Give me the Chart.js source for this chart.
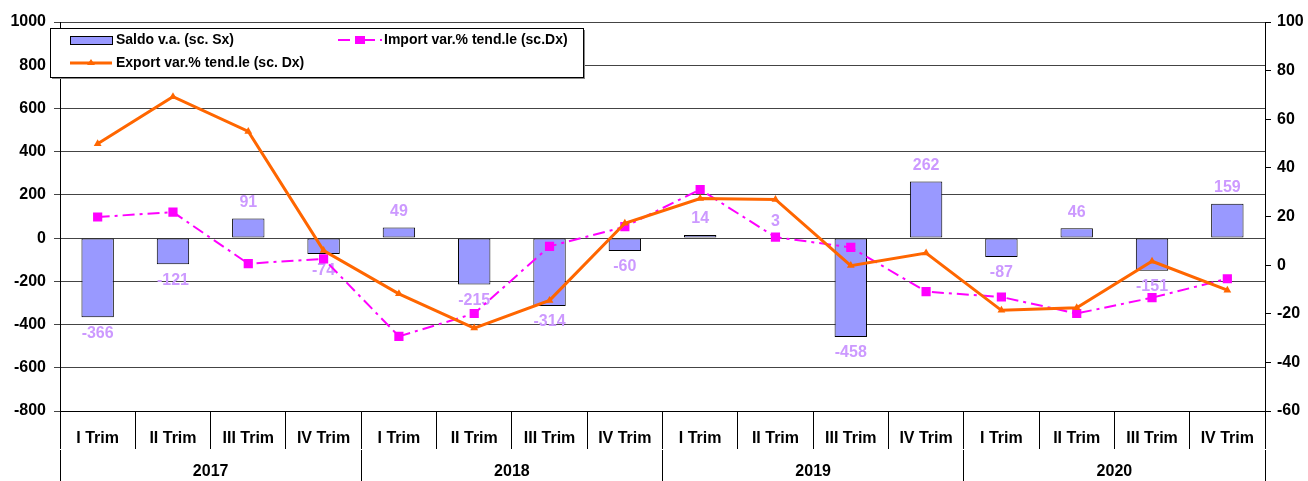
<!DOCTYPE html>
<html>
<head>
<meta charset="utf-8">
<script src="https://cdn.jsdelivr.net/npm/chart.js@4.4.1/dist/chart.umd.min.js"></script>
<style>
  html, body { margin: 0; padding: 0; background: #fff; }
</style>
</head>
<body>
<canvas id="chart" width="1308" height="481"></canvas>
<script>
// dati
const trimestri = ["I Trim", "II Trim", "III Trim", "IV Trim", "I Trim", "II Trim", "III Trim", "IV Trim",
  "I Trim", "II Trim", "III Trim", "IV Trim", "I Trim", "II Trim", "III Trim", "IV Trim"];
const anni = ["2017", "2018", "2019", "2020"];
const saldo = [-366, -121, 91, -74, 49, -215, -314, -60, 14, 3, -458, 262, -87, 46, -151, 159];
const importVar = [19.8, 21.8, 0.6, 2.6, -29.3, -19.9, 7.7, 15.8, 31.1, 11.5, 7.3, -10.9, -13.1, -19.9, -13.4, -5.6];
const exportVar = [49.9, 69.3, 55.0, 6.0, -11.8, -25.9, -14.5, 17.2, 27.4, 27.0, -0.2, 5.0, -18.6, -17.5, 1.6, -10.3];

Chart.defaults.font.family = "'Liberation Sans', Arial, sans-serif";
Chart.defaults.font.weight = "bold";
Chart.defaults.font.size = 16;
Chart.defaults.color = "#000";

// etichette dei valori sulle barre
const etichetteSaldo = {
  id: "etichetteSaldo",
  afterDatasetDraw(chart, args) {
    if (args.index !== 0) return;
    const ctx = chart.ctx;
    ctx.save();
    ctx.font = "bold 16px 'Liberation Sans', Arial, sans-serif";
    ctx.fillStyle = "#CC99FF";
    ctx.textAlign = "center";
    ctx.textBaseline = "middle";
    args.meta.data.forEach((bar, i) => {
      const v = saldo[i];
      const y = v >= 0 ? bar.y - 16 : bar.y + 16;
      ctx.fillText(String(v), bar.x, y);
    });
    ctx.restore();
  },
};

// legenda dentro il grafico
const legendaBox = {
  id: "legendaBox",
  afterDraw(chart) {
    const ctx = chart.ctx;
    const ds = chart.data.datasets;
    const x0 = chart.chartArea.left - 10;
    const y0 = chart.chartArea.top + 6;
    const w = 533, h = 49;
    ctx.save();
    ctx.fillStyle = "#888";
    ctx.fillRect(x0 + 2, y0 + 2, w, h);
    ctx.fillStyle = "#fff";
    ctx.fillRect(x0, y0, w, h);
    ctx.strokeStyle = "#000";
    ctx.lineWidth = 1;
    ctx.strokeRect(x0 + 0.5, y0 + 0.5, w, h);

    ctx.font = "bold 14px 'Liberation Sans', Arial, sans-serif";
    ctx.fillStyle = "#000";
    ctx.textBaseline = "middle";
    const r1 = y0 + 12, r2 = y0 + 35;

    // Saldo
    ctx.fillStyle = ds[0].backgroundColor;
    ctx.fillRect(x0 + 20, r1 - 4, 42, 8);
    ctx.strokeStyle = "#000";
    ctx.strokeRect(x0 + 20.5, r1 - 3.5, 42, 8);
    ctx.fillStyle = "#000";
    ctx.fillText(ds[0].label, x0 + 66, r1);

    // Import
    ctx.strokeStyle = ds[1].borderColor;
    ctx.lineWidth = 2;
    ctx.setLineDash([12, 5, 3, 5]);
    ctx.beginPath();
    ctx.moveTo(x0 + 288, r1);
    ctx.lineTo(x0 + 332, r1);
    ctx.stroke();
    ctx.setLineDash([]);
    ctx.fillStyle = ds[1].borderColor;
    ctx.fillRect(x0 + 305, r1 - 4, 10, 8);
    ctx.fillStyle = "#000";
    ctx.fillText(ds[1].label, x0 + 334, r1);

    // Export
    ctx.strokeStyle = ds[2].borderColor;
    ctx.lineWidth = 3;
    ctx.beginPath();
    ctx.moveTo(x0 + 20, r2);
    ctx.lineTo(x0 + 62, r2);
    ctx.stroke();
    ctx.fillStyle = ds[2].borderColor;
    ctx.beginPath();
    ctx.moveTo(x0 + 41, r2 - 4);
    ctx.lineTo(x0 + 45, r2 + 2);
    ctx.lineTo(x0 + 37, r2 + 2);
    ctx.closePath();
    ctx.fill();
    ctx.fillStyle = "#000";
    ctx.fillText(ds[2].label, x0 + 66, r2);
    ctx.restore();
  },
};

const ctx = document.getElementById("chart").getContext("2d");

new Chart(ctx, {
  data: {
    labels: trimestri,
    datasets: [
      {
        type: "bar",
        label: "Saldo v.a. (sc. Sx)",
        data: saldo,
        yAxisID: "y",
        backgroundColor: "#9999FF",
        borderColor: "#000",
        borderWidth: 1,
        borderSkipped: false,
        categoryPercentage: 1,
        barPercentage: 0.43,
        order: 3,
      },
      {
        type: "line",
        label: "Import var.% tend.le (sc.Dx)",
        data: importVar,
        yAxisID: "y1",
        borderColor: "#FF00FF",
        backgroundColor: "#FF00FF",
        borderWidth: 2,
        borderDash: [12, 5, 3, 5],
        pointStyle: "rect",
        pointRadius: 6.5,
        pointBorderWidth: 0,
        tension: 0,
        order: 2,
      },
      {
        type: "line",
        label: "Export var.% tend.le (sc. Dx)",
        data: exportVar,
        yAxisID: "y1",
        borderColor: "#FF6600",
        backgroundColor: "#FF6600",
        borderWidth: 3,
        pointStyle: "triangle",
        pointRadius: 4.5,
        pointBorderWidth: 0,
        tension: 0,
        order: 1,
      },
    ],
  },
  options: {
    responsive: false,
    animation: false,
    layout: { padding: { top: 22, left: 0, right: 0, bottom: 0 } },
    plugins: {
      legend: { display: false },
      tooltip: { enabled: false },
    },
    scales: {
      x: {
        type: "category",
        position: "bottom",
        offset: true,
        grid: { offset: true, drawOnChartArea: false, color: "#000", tickLength: 38 },
        border: { color: "#000" },
        ticks: { padding: -20, maxRotation: 0, autoSkip: false },
        afterFit: (s) => { s.height = 39; },
      },
      x2: {
        type: "category",
        position: "bottom",
        labels: anni,
        offset: true,
        grid: { offset: true, drawOnChartArea: false, color: "#000", tickLength: 31 },
        border: { display: false },
        ticks: { padding: -19, maxRotation: 0 },
        afterFit: (s) => { s.height = 31; },
      },
      y: {
        position: "left",
        min: -800,
        max: 1000,
        ticks: { stepSize: 200, padding: 8, callback: (v) => String(v) },
        grid: { color: "#444", tickLength: 6 },
        border: { color: "#000" },
        afterFit: (s) => { s.width = 60; },
      },
      y1: {
        position: "right",
        min: -60,
        max: 100,
        ticks: { stepSize: 20, padding: 6, callback: (v) => String(v) },
        grid: { drawOnChartArea: false, color: "#000", tickLength: 6 },
        border: { color: "#000" },
        afterFit: (s) => { s.width = 43; },
      },
    },
  },
  plugins: [etichetteSaldo, legendaBox],
});
</script>
</body>
</html>
